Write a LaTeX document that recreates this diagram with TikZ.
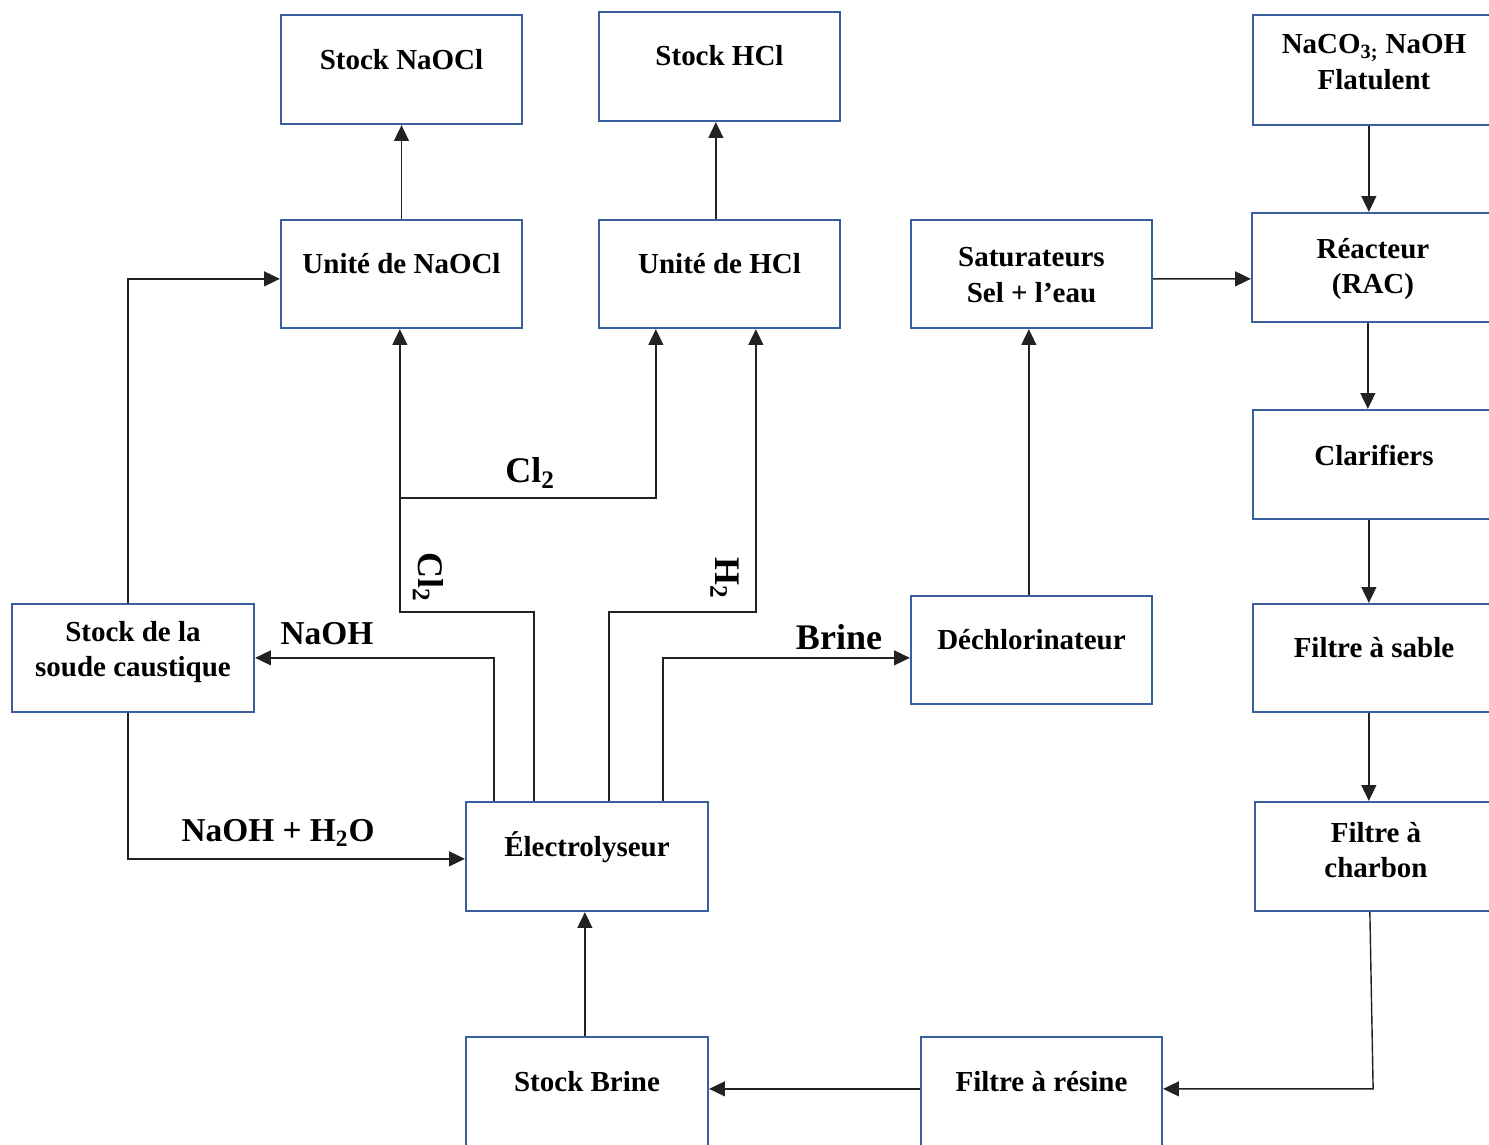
\documentclass[tikz,border=0pt]{standalone}
\usepackage{fontspec}
\setmainfont{Liberation Serif}
\usetikzlibrary{arrows.meta,calc,fit}
\definecolor{boxblue}{HTML}{3A5F9E}
\definecolor{linegray}{HTML}{222222}
\begin{document}
\begin{tikzpicture}[x=0.02cm,y=-0.02cm,
  box/.style={draw=boxblue,line width=1.3pt,rectangle,inner sep=0pt},
  txt/.style={font=\fontsize{16.5}{20.4}\selectfont\bfseries,align=center,inner sep=0pt},
  lbl/.style={font=\fontsize{19}{22}\selectfont\bfseries,inner sep=0pt},
  biglbl/.style={font=\fontsize{20.5}{24}\selectfont\bfseries,inner sep=0pt},
  arr/.style={draw=linegray,line width=0.8pt,-{Triangle[length=9pt,width=8.5pt]}},
  ln/.style={draw=linegray,line width=0.8pt}]
\clip (0,0) rectangle (1489,1144);
\fill[white] (0,0) rectangle (1489,1144);
% boxes
\node[box,fit={(281,15) (522,124)}] (snaocl) {};
\node[box,fit={(599,12) (840,121)}] (shcl) {};
\node[box,fit={(1253,15) (1540,125)}] (naco) {};
\node[box,fit={(281,220) (522,328)}] (unaocl) {};
\node[box,fit={(599,220) (840,328)}] (uhcl) {};
\node[box,fit={(911,220) (1152,328)}] (sat) {};
\node[box,fit={(1252,213) (1540,322)}] (reac) {};
\node[box,fit={(1253,410) (1540,519)}] (clar) {};
\node[box,fit={(1253,604) (1540,712)}] (fsable) {};
\node[box,fit={(1255,802) (1540,911)}] (fcharb) {};
\node[box,fit={(12,604) (254,712)}] (soude) {};
\node[box,fit={(911,596) (1152,704)}] (dechl) {};
\node[box,fit={(466,802) (708,911)}] (elec) {};
\node[box,fit={(466,1037) (708,1190)}] (sbrine) {};
\node[box,fit={(921,1037) (1162,1190)}] (fres) {};
% box texts
\node[txt] (t1) at (401.5,60) {Stock NaOCl};
\node[txt] (t2) at (719.5,56) {Stock HCl};
\node[txt] (t3) at (1374,62) {NaCO\textsubscript{3;} NaOH\\Flatulent};
\node[txt] (t4) at (401.5,264) {Unité de NaOCl};
\node[txt] (t5) at (719.5,264) {Unité de HCl};
\node[txt] (t6) at (1031.5,275) {Saturateurs\\Sel + l’eau};
\node[txt] (t7) at (1373,269) {Réacteur\\(RAC)};
\node[txt] (t8) at (1374,455) {Clarifiers};
\node[txt] (t9) at (1374,648) {Filtre à sable};
\node[txt] (t10) at (1376,850) {Filtre à\\charbon};
\node[txt] (t11) at (133,652) {Stock de la\\soude caustique};
\node[txt] (t12) at (1031.5,640) {Déchlorinateur};
\node[txt] (t13) at (587,847) {Électrolyseur};
\node[txt] (t14) at (587,1082) {Stock Brine};
\node[txt] (t15) at (1041.5,1082) {Filtre à résine};
% labels
\node[biglbl] (lcl) at (530,473) {Cl\textsubscript{2}};
\node[biglbl,rotate=-90] (lclv) at (428,577) {Cl\textsubscript{2}};
\node[biglbl,rotate=-90] (lh) at (725,578) {H\textsubscript{2}};
\node[lbl] (lnaoh) at (327,634) {NaOH};
\node[biglbl] (lbrine) at (839,637) {Brine};
\node[lbl] (lnaohw) at (278,833) {NaOH + H\textsubscript{2}O};
% connectors
\coordinate (br) at ($(unaocl.south west)+(120,169)$);
\draw[arr] (unaocl.north) -- (snaocl.south);
\draw[arr] ($(uhcl.north west)+(118,0)$) -- ($(shcl.south west)+(118,0)$);
\draw[arr] ($(naco.south west)+(117,0)$) -- ($(reac.north west)+(118,0)$);
\draw[arr] ($(reac.south west)+(117,0)$) -- ($(clar.north west)+(116,0)$);
\draw[arr] ($(clar.south west)+(117,0)$) -- ($(fsable.north west)+(117,0)$);
\draw[arr] ($(fsable.south west)+(117,0)$) -- ($(fcharb.north west)+(115,0)$);
\draw[arr] ($(fcharb.south west)+(116,0)$) -- ($(fres.north east)+(210,53)$) -- ($(fres.north east)+(0,53)$);
\draw[arr] ($(fres.north west)+(0,53)$) -- ($(sbrine.north east)+(0,53)$);
\draw[arr] ($(sbrine.north west)+(120,0)$) -- ($(elec.south west)+(120,0)$);
\draw[arr] ($(sat.north east)+(0,60)$) -- ($(reac.north west)+(0,67)$);
\draw[arr] ($(dechl.north west)+(119,0)$) -- ($(sat.south west)+(119,0)$);
\draw[arr] ($(elec.north west)+(198,0)$) |- ($(dechl.north west)+(0,63)$);
\draw[arr] ($(elec.north west)+(144,0)$) -- ++(0,-189) -| ($(uhcl.south west)+(158,0)$);
\draw[arr] ($(elec.north west)+(69,0)$) -- ++(0,-189) -| ($(unaocl.south west)+(120,0)$);
\draw[arr] (br) -| ($(uhcl.south west)+(58,0)$);
\draw[arr] ($(elec.north west)+(29,0)$) |- ($(soude.north east)+(0,55)$);
\draw[arr] ($(soude.north west)+(117,0)$) |- ($(unaocl.north west)+(0,60)$);
\draw[arr] ($(soude.south west)+(117,0)$) |- ($(elec.north west)+(0,58)$);
\end{tikzpicture}
\end{document}
